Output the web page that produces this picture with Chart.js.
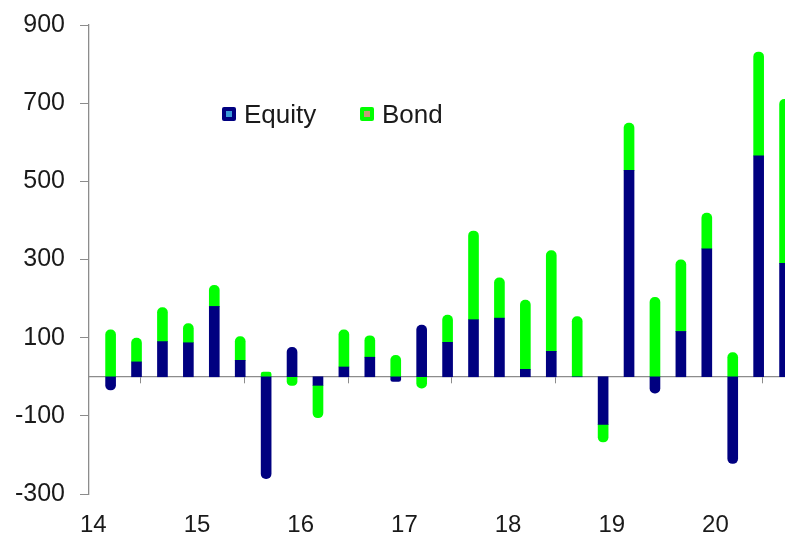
<!DOCTYPE html>
<html><head><meta charset="utf-8">
<script src="https://cdn.jsdelivr.net/npm/chart.js@4"></script>
<style>
html,body{margin:0;padding:0;background:#fff;overflow:hidden}
#wrap{position:relative;width:785px;height:538px}
#legend{position:absolute;left:0;top:0;font-family:'Liberation Sans',Arial,sans-serif;font-size:26px;color:#1a1a1a}
.item{position:absolute;display:flex;align-items:center;white-space:nowrap;line-height:30px;height:30px}
.mk{width:14px;height:14px;border-radius:2px;position:relative;margin-right:8px;flex:none}
.mk i{position:absolute;left:4px;top:4px;width:6px;height:6px}
</style></head><body>
<div id="wrap"><canvas id="c" width="785" height="538"></canvas><div id="legend"></div></div>
<script>
// Quarter-end months (YYYY-MM)
const quarters = ['2014-03','2014-06','2014-09','2014-12',
                  '2015-03','2015-06','2015-09','2015-12',
                  '2016-03','2016-06','2016-09','2016-12',
                  '2017-03','2017-06','2017-09','2017-12',
                  '2018-03','2018-06','2018-09','2018-12',
                  '2019-03','2019-06','2019-09','2019-12',
                  '2020-03','2020-06','2020-09'];
const equity = [-34, 38, 90, 87, 180, 42, -261, 75, -22, 25, 50, -12, 132, 88, 146, 150, 19, 65, 0, -122, 528, -42, 116, 327, -222, 565, 290];
const bond   = [120, 61, 87, 49, 54, 61, 12, -22, -83, 95, 55, 55, -29, 70, 227, 103, 177, 258, 154, -45, 121, 203, 183, 92, 62, 266, 420];
const yearLabels = ['14','15','16','17','18','19','20'];
const yTicks = [-300, -100, 100, 300, 500, 700, 900];

const baseYear = 2000 + Number(yearLabels[0]);
function monthCenter(q){ const [y,m] = q.split('-').map(Number); return (y-baseYear)*12 + (m-1) + 0.5; }
function yearStart(l){ return (2000 + Number(l) - baseYear) * 12; }

const FONT = "'Liberation Sans', Arial, sans-serif";
const AXIS = '#8c8c8c';
const TXT = '#1a1a1a';
const X_MAX = 80.55;

const ds = (label, vals, color) => ({
  label, backgroundColor: color, borderWidth: 0, barThickness: 10, borderRadius: 5,
  data: vals.map((v,i) => ({x: monthCenter(quarters[i]), y: v}))
});

const chart = new Chart(document.getElementById('c'), {
  type: 'bar',
  data: { datasets: [ ds('Equity', equity, '#000080'), ds('Bond', bond, '#00ff00') ] },
  options: {
    responsive: false, animation: false, devicePixelRatio: 1,
    layout: { padding: { top: 25, right: 0, bottom: 0, left: 0 } },
    plugins: { legend: { display: false }, tooltip: { enabled: false } },
    scales: {
      x: {
        type: 'linear', stacked: true, offset: false, min: 0, max: X_MAX, position: 'bottom',
        grid: { display: false, drawTicks: false }, border: { display: false },
        afterBuildTicks: s => { s.ticks = yearLabels.map(l => ({ value: yearStart(l) + 0.5 })); },
        afterFit: s => { s.height = 44; s.paddingLeft = 0; s.paddingRight = 0; },
        ticks: { autoSkip: false, maxRotation: 0, padding: 17, color: TXT,
          font: { family: FONT, size: 24, lineHeight: 1.2 },
          callback: (v, i) => yearLabels[i] }
      },
      x0: {
        type: 'linear', offset: false, min: 0, max: X_MAX, position: { y: 0 },
        grid: { drawOnChartArea: false, drawTicks: true, tickLength: 6, color: AXIS, lineWidth: 1 },
        border: { display: true, color: AXIS, width: 1.3 },
        afterBuildTicks: s => { s.ticks = yearLabels.map(l => ({ value: yearStart(l) })); },
        afterFit: s => { s.height = 0; s.paddingLeft = 0; s.paddingRight = 0; },
        ticks: { display: false }
      },
      y: {
        stacked: true, min: -300, max: 900, position: 'left',
        afterBuildTicks: s => { s.ticks = yTicks.map(v => ({ value: v })); },
        afterFit: s => { s.width = 89; s.paddingTop = 0; s.paddingBottom = 0; },
        grid: { drawOnChartArea: false, drawTicks: true, tickLength: 9, color: AXIS },
        border: { display: true, color: AXIS, width: 1.3 },
        ticks: { padding: 15, color: TXT, font: { family: FONT, size: 25, lineHeight: 1.2 } }
      }
    }
  }
});

// HTML legend built from the chart's datasets
const inner = ['#3a9ad8', '#c49a78'];
const legendX = [222, 360];
const leg = document.getElementById('legend');
chart.data.datasets.forEach((d, i) => {
  const it = document.createElement('div');
  it.className = 'item';
  it.style.left = legendX[i] + 'px';
  it.style.top = '99px';
  const mk = document.createElement('span');
  mk.className = 'mk';
  mk.style.background = d.backgroundColor;
  const ii = document.createElement('i');
  ii.style.background = inner[i];
  mk.appendChild(ii);
  it.appendChild(mk);
  it.appendChild(document.createTextNode(d.label));
  leg.appendChild(it);
});
</script>
</body></html>
